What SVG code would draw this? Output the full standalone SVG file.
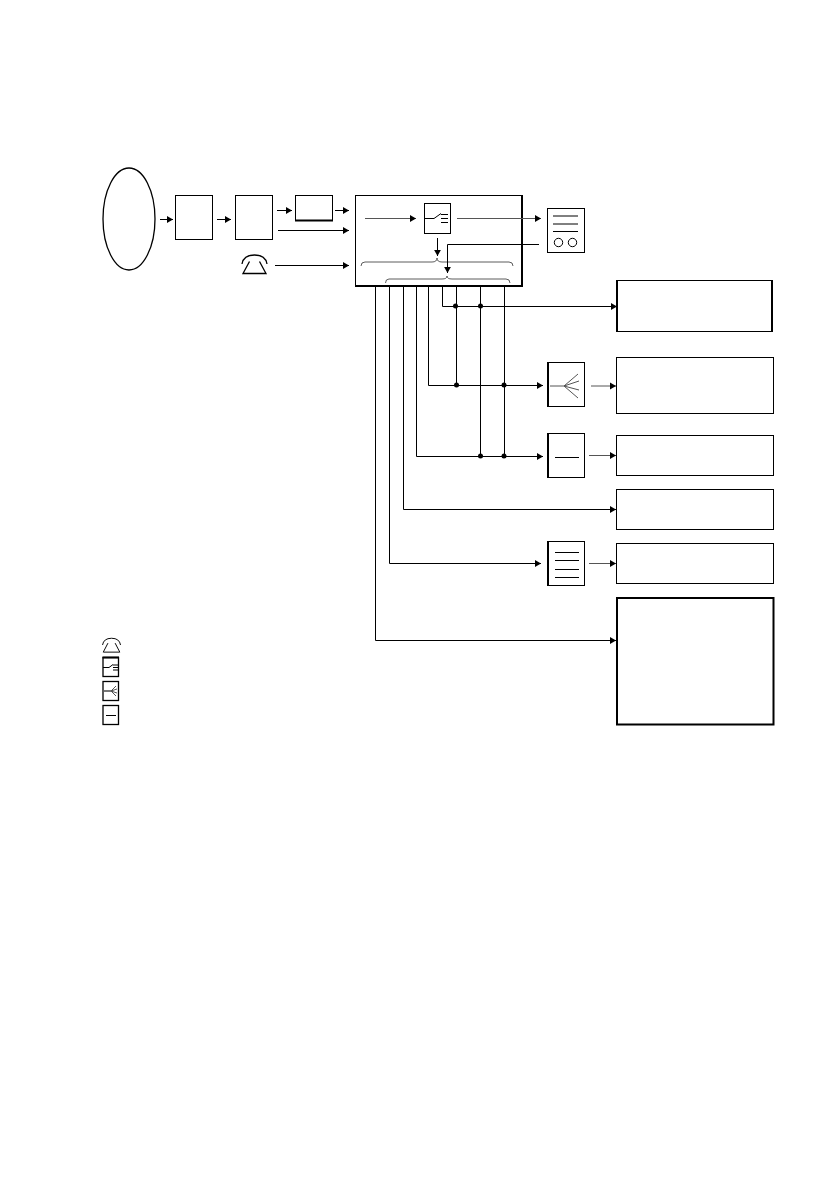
<svg xmlns="http://www.w3.org/2000/svg" width="838" height="1192" viewBox="0 0 838 1192">
<style>
.b{fill:#fff;stroke:#000;stroke-width:1}
.k{fill:#fff;stroke:#000;stroke-width:1.300}
.l{fill:none;stroke:#000;stroke-width:1}
.f{fill:none;stroke:#000;stroke-width:1.300}
.g{fill:none;stroke:#555;stroke-width:1}
.br{fill:none;stroke:#333;stroke-width:.8}
.t{fill:none;stroke:#000;stroke-width:2}
.d{fill:#000}
</style>
<defs>
<marker id="a" markerUnits="userSpaceOnUse" markerWidth="8" markerHeight="8" refX="6" refY="4" orient="auto"><path d="M0 0.6L6 4L0 7.4Z" fill="#000"/></marker>
<g id="phone"><path class="f" d="M242 264Q243.500 255 254.500 255Q265.500 255 267 264"/><path class="f" d="M249.500 261.500L243 273.500H266L259.500 261.500"/></g>
</defs>
<g id="nodes">
<g id="source"><ellipse class="f" cx="129" cy="219" rx="26" ry="51"/></g>
<g id="box1"><rect class="b" x="175.500" y="195.500" width="37" height="44"/></g>
<g id="box2"><rect class="b" x="235.500" y="195.500" width="37" height="44"/></g>
<g id="box3"><rect class="b" x="295.500" y="195.500" width="37" height="25"/><path class="t" d="M295 220.500H333"/></g>
<g id="phone-in"><use href="#phone"/></g>
<g id="main"><rect class="b" x="355.500" y="195.500" width="166" height="90"/><path class="t" d="M522 195V286H355"/>
<path class="br" d="M361 266Q361 262 365 262H432Q437 262 437 258Q437 262 442 262H509Q513 262 513 266"/>
<path class="br" d="M385.500 283Q385.500 279 389 279H442Q447 279 447 276Q447 279 452 279H506Q510 279 510 283"/></g>
<g id="switch"><rect class="b" x="424.500" y="203.500" width="26" height="30"/><path class="l" d="M425 218.500H434L441 213.500M441 214.500H448M441 218.500H448M441 222.500H448"/></g>
<g id="tape"><rect class="b" x="547.500" y="208.500" width="37" height="44"/><path class="l" d="M553 216H578M553 224H578M553 231.500H578"/><circle class="l" cx="558.500" cy="242.500" r="4.200"/><circle class="l" cx="572.500" cy="242.500" r="4.200"/></g>
<g id="fan"><rect class="b" x="547.500" y="362.500" width="37" height="44"/><path class="t" d="M548 362V407"/><path class="g" d="M550 386H564L578 374M564 386L579 381M564 386L579 390M564 386L578 398"/></g>
<g id="dash"><rect class="b" x="547.500" y="433.500" width="37" height="44"/><path class="t" d="M548 433V478"/><path class="l" d="M555 457.500H579"/></g>
<g id="doc"><rect class="b" x="547.500" y="541.500" width="37" height="44"/><path class="t" d="M548 541V586"/><path class="l" d="M555 552.500H579M555 560.500H579M555 569.500H579M555 577.500H579"/></g>
<g id="outA"><rect class="b" x="617.500" y="280.500" width="155" height="51"/><path class="t" d="M617 280V332M772 280V332"/></g>
<g id="outB"><rect class="b" x="616.500" y="357.500" width="157" height="56"/></g>
<g id="outC"><rect class="b" x="616.500" y="435.500" width="157" height="40"/></g>
<g id="outD"><rect class="b" x="616.500" y="489.500" width="157" height="40"/></g>
<g id="outE"><rect class="b" x="616.500" y="543.500" width="157" height="40"/></g>
<g id="outF"><rect x="617" y="598" width="156.500" height="126.500" fill="#fff" stroke="#000" stroke-width="2"/></g>
<g id="legend-phone"><use href="#phone" transform="translate(-71.700 447) scale(.72 .75)"/></g>
<g id="legend-switch"><rect class="k" x="103" y="657.500" width="15.500" height="19"/><path class="l" d="M103 667.500H109L113 664.500M113 665H118M113 667.500H118M113 670H118"/><path class="t" d="M102.500 657.500H119"/></g>
<g id="legend-fan"><rect class="k" x="103" y="681.500" width="15.500" height="19"/><path class="g" d="M111 691L116 686M111 691L117 689M111 691L117 693M111 691L116 696"/><path d="M104 691H111" fill="none" stroke="#777" stroke-width="2"/></g>
<g id="legend-dash"><rect class="k" x="103" y="705.500" width="15.500" height="19"/><path class="l" d="M106 715.500H116"/></g>
</g>
<g id="connectors">
<path class="l" marker-end="url(#a)" d="M160 219.500H173"/>
<path class="l" marker-end="url(#a)" d="M217 219.500H231"/>
<path class="l" marker-end="url(#a)" d="M277 210.500H292"/>
<path class="l" marker-end="url(#a)" d="M335 210.500H349"/>
<path class="l" marker-end="url(#a)" d="M278 230.500H349"/>
<path class="l" marker-end="url(#a)" d="M275 265.500H349"/>
<path class="g" marker-end="url(#a)" d="M365 218.500H416"/>
<path class="g" marker-end="url(#a)" d="M457 218.500H541"/>
<path class="l" marker-end="url(#a)" d="M437.500 238V256"/>
<path class="l" marker-end="url(#a)" d="M539 244.500H447.500V273"/>
<path class="l" marker-end="url(#a)" d="M375.500 286V640.500H616"/>
<path class="l" marker-end="url(#a)" d="M389.500 286V563.500H541"/>
<path class="l" marker-end="url(#a)" d="M403.500 286V509.500H616"/>
<path class="l" marker-end="url(#a)" d="M416.500 286V456.500H543"/>
<path class="l" marker-end="url(#a)" d="M428.500 286V385.500H543"/>
<path class="l" marker-end="url(#a)" d="M442.500 286V306.500H617"/>
<path class="l" d="M456.500 286V385.500M480.500 286V456.500M504.500 286V456.500"/>
<path class="g" marker-end="url(#a)" d="M591 386H616" stroke-width="1.500"/>
<path class="g" marker-end="url(#a)" d="M589 455.500H616"/>
<path class="g" marker-end="url(#a)" d="M589 563.500H616"/>
<circle class="d" cx="455.500" cy="306" r="2.500"/><circle class="d" cx="480.500" cy="306" r="2.500"/><circle class="d" cx="456.500" cy="385" r="2.500"/><circle class="d" cx="504" cy="385" r="2.500"/><circle class="d" cx="480.500" cy="456" r="2.500"/><circle class="d" cx="504" cy="456" r="2.500"/>
</g>
</svg>
